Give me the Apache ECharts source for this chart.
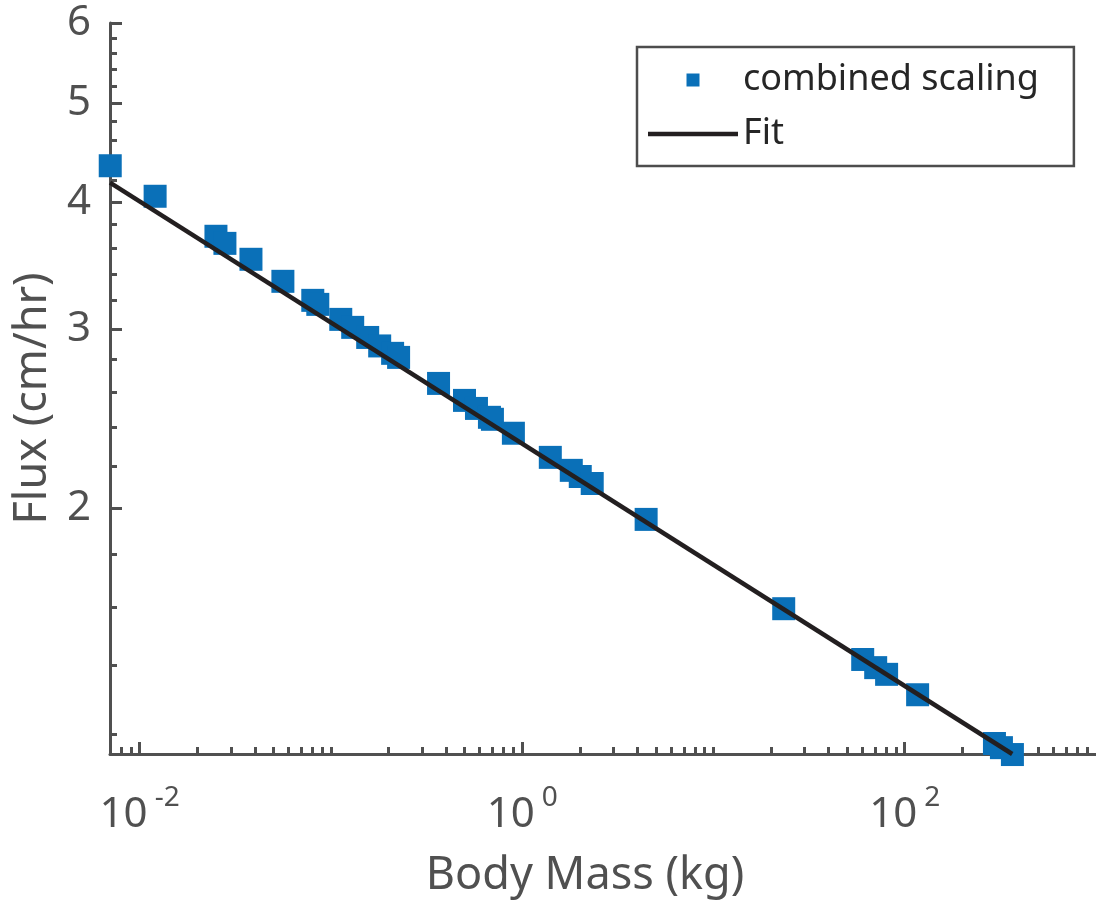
<!DOCTYPE html>
<html>
<head>
<meta charset="utf-8">
<title>Flux vs Body Mass</title>
<script src="https://cdn.jsdelivr.net/npm/echarts@6/dist/echarts.min.js"></script>
<style>
  html, body { margin: 0; padding: 0; background: #fff; }
  #chart { width: 1096px; height: 911px; }
</style>
</head>
<body>
<div id="chart"></div>
<script>
  // values
  var massKg = [0.00702, 0.01205, 0.02506, 0.02792, 0.0382, 0.0561, 0.0804, 0.0854, 0.1126, 0.130,
    0.1557, 0.1799, 0.2102, 0.2259, 0.3654, 0.4994, 0.5768, 0.6743, 0.699, 0.8996,
    1.403, 1.806, 2.012, 2.324, 4.447, 23.3, 60.3, 70.5, 80.4, 116.8,
    294.5, 320.3, 365.6];
  var fluxCmHr = [4.343, 4.053, 3.702, 3.643, 3.514, 3.343, 3.202, 3.173, 3.067, 3.012,
    2.944, 2.888, 2.840, 2.814, 2.653, 2.553, 2.507, 2.457, 2.446, 2.370,
    2.244, 2.179, 2.149, 2.115, 1.950, 1.593, 1.420, 1.394, 1.373, 1.311,
    1.174, 1.163, 1.145];

  // fit line end points
  var fitMass = [0.007, 364.8];
  var fitFlux = [4.18, 1.1464];

  // axis limits and ticks
  var xRange = [0.007, 1000];
  var yRange = [1.1464, 6];
  var xMajorTicks = [0.01, 1, 100];
  var xMinorTicks = [0.008, 0.009, 0.02, 0.03, 0.04, 0.05, 0.06, 0.07, 0.08, 0.09,
    0.1, 0.2, 0.3, 0.4, 0.5, 0.6, 0.7, 0.8, 0.9,
    2, 3, 4, 5, 6, 7, 8, 9, 10, 20, 30, 40, 50, 60, 70, 80, 90,
    200, 300, 400, 500, 600, 700, 800, 900];
  var yMajorTicks = [2, 3, 4, 5, 6];
  var yMinorTicks = [1.2, 1.4, 1.6, 1.8, 2.2, 2.4, 2.6, 2.8, 3.2, 3.4, 3.6, 3.8,
    4.2, 4.4, 4.6, 4.8, 5.2, 5.4, 5.6, 5.8];

  var lg = function (v) { return Math.log10(v); };
  var axisColor = '#505050';
  var fitColor = '#231f20';
  var fontFamily = '"Noto Sans", "Open Sans", sans-serif';

  var scatterData = massKg.map(function (m, i) { return [lg(m), lg(fluxCmHr[i])]; });
  var fitData = fitMass.map(function (m, i) { return [lg(m), lg(fitFlux[i])]; });

  var myChart = echarts.init(document.getElementById('chart'));

  var baseX = {
    type: 'value',
    position: 'bottom',
    gridIndex: 0,
    min: lg(xRange[0]),
    max: lg(xRange[1]),
    splitLine: { show: false },
    axisLine: { show: false, onZero: false },
    axisLabel: { show: false },
    axisTick: { show: false }
  };
  var baseY = {
    type: 'value',
    position: 'left',
    gridIndex: 0,
    min: lg(yRange[0]),
    max: lg(yRange[1]),
    splitLine: { show: false },
    axisLine: { show: false, onZero: false },
    axisLabel: { show: false },
    axisTick: { show: false }
  };

  var option = {
    animation: false,
    textStyle: { fontFamily: fontFamily },
    grid: { left: 110, right: -2, top: 23, bottom: 157, containLabel: false },
    legend: {
      orient: 'vertical',
      left: 637,
      top: 47,
      padding: [13, 35, 12, 11],
      itemWidth: 90,
      itemHeight: 13,
      itemGap: 14,
      itemTextGap: 9,
      borderColor: '#4d4d4d',
      borderWidth: 2.5,
      backgroundColor: '#fff',
      textStyle: { fontFamily: fontFamily, fontSize: 36, lineHeight: 40, color: '#262626' },
      data: [
        { name: 'combined scaling', icon: 'path://M0,0M90,13M38.5,0h13v13h-13z' },
        { name: 'Fit', icon: 'path://M0,0M90,13M0,4.25h90v4.5h-90z' }
      ]
    },
    xAxis: [
      Object.assign({}, baseX, {
        name: 'Body Mass (kg)',
        nameLocation: 'middle',
        nameGap: 100,
        nameTextStyle: { fontFamily: fontFamily, fontSize: 45, color: axisColor, padding: [0, 36, 0, 0] },
        axisLine: { show: true, onZero: false, lineStyle: { color: axisColor, width: 3 } },
        axisTick: {
          show: true, inside: true, length: 12,
          customValues: xMajorTicks.map(lg),
          lineStyle: { color: axisColor, width: 3 }
        },
        axisLabel: {
          show: true,
          margin: 30,
          customValues: xMajorTicks.map(lg),
          formatter: function (v) { return '{b|10}{s|' + Math.round(v) + '}'; },
          rich: {
            b: { fontFamily: fontFamily, fontSize: 42, lineHeight: 62, color: axisColor },
            s: { fontFamily: fontFamily, fontSize: 28, lineHeight: 28, verticalAlign: 'top', color: axisColor, padding: [0, 0, 0, 7] }
          }
        }
      }),
      Object.assign({}, baseX, {
        axisTick: {
          show: true, inside: true, length: 7,
          customValues: xMinorTicks.map(lg),
          lineStyle: { color: axisColor, width: 3 }
        }
      })
    ],
    yAxis: [
      Object.assign({}, baseY, {
        name: 'Flux (cm/hr)',
        nameLocation: 'middle',
        nameGap: 52,
        nameTextStyle: { fontFamily: fontFamily, fontSize: 45, color: axisColor, padding: [0, 20, 0, 0] },
        axisLine: { show: true, onZero: false, lineStyle: { color: axisColor, width: 3 } },
        axisTick: {
          show: true, inside: true, length: 12,
          customValues: yMajorTicks.map(lg),
          lineStyle: { color: axisColor, width: 3 }
        },
        axisLabel: {
          show: true,
          margin: 19,
          fontFamily: fontFamily,
          fontSize: 42,
          color: axisColor,
          customValues: yMajorTicks.map(lg),
          formatter: function (v) { return String(Math.round(Math.pow(10, v))); }
        }
      }),
      Object.assign({}, baseY, {
        axisTick: {
          show: true, inside: true, length: 7,
          customValues: yMinorTicks.map(lg),
          lineStyle: { color: axisColor, width: 3 }
        }
      })
    ],
    series: [
      {
        name: 'combined scaling',
        type: 'scatter',
        xAxisIndex: 0,
        yAxisIndex: 0,
        symbol: 'rect',
        symbolSize: 23,
        clip: false,
        itemStyle: { color: '#0a70b8', opacity: 1 },
        data: scatterData,
        z: 3
      },
      {
        name: 'Fit',
        type: 'line',
        xAxisIndex: 0,
        yAxisIndex: 0,
        symbol: 'none',
        clip: false,
        lineStyle: { color: fitColor, width: 4.5 },
        itemStyle: { color: fitColor },
        data: fitData,
        z: 4
      }
    ]
  };

  myChart.setOption(option);
</script>
</body>
</html>
